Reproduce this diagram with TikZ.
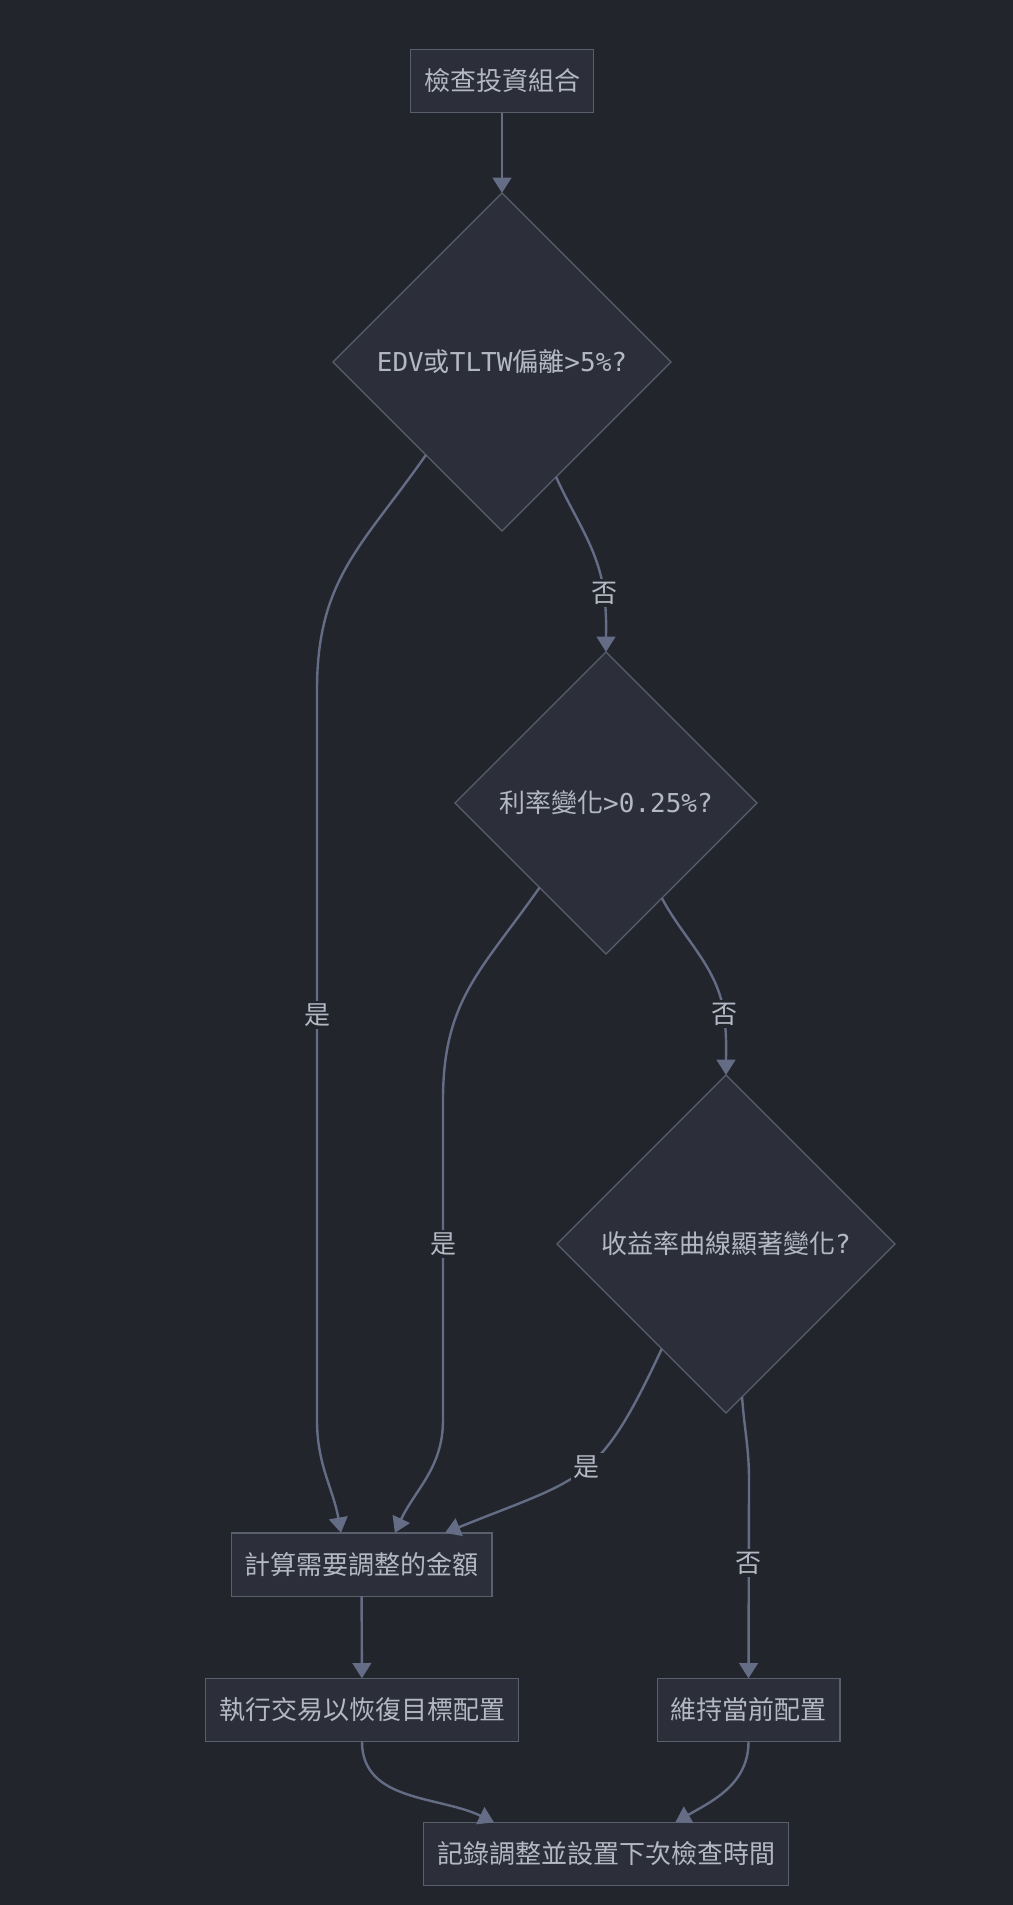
\documentclass[tikz,border=0pt]{standalone}
\usepackage{fontspec}
\setmainfont{DejaVu Sans Mono}
\newfontfamily\cjk{Noto Sans CJK TC}
\usetikzlibrary{shapes.geometric, arrows.meta, positioning, calc}

\definecolor{bgdark}{HTML}{23252C}
\definecolor{nodefill}{HTML}{2C2F39}
\definecolor{nodeline}{HTML}{5A5F6E}
\definecolor{edgeline}{HTML}{646D85}
\definecolor{textgray}{HTML}{B4B8C4}

\tikzset{
  box/.style={draw=nodeline, fill=nodefill, line width=1pt, text=textgray,
    minimum height=47.5pt, inner xsep=10pt, outer sep=0pt},
  decision/.style={diamond, aspect=1, draw=nodeline, fill=nodefill, line width=1pt,
    text=textgray, inner sep=0pt, outer sep=0pt},
  edge/.style={draw=edgeline, line width=1.8pt, -{Triangle[length=11.5pt,width=14pt]}},
  lbl/.style={fill=bgdark, text=textgray, inner sep=2pt},
}

\begin{document}
\begin{tikzpicture}[x=0.75pt, y=-0.75pt, font=\fontsize{19.5pt}{23pt}\selectfont]
\fill[bgdark] (0,0) rectangle (1013,1905);

% nodes
\node[box] (check) at (502,81) {{\cjk 檢查投資組合}};
\node[decision, minimum width=253.5pt, minimum height=253.5pt] (q1) at (502,362)
  {EDV{\cjk 或}TLTW{\cjk 偏離}>5\%?};
\node[decision, minimum width=226.5pt, minimum height=226.5pt] (q2) at (606,803)
  {{\cjk 利率變化}>0.25\%?};
\node[decision, minimum width=253.5pt, minimum height=253.5pt] (q3) at (726,1244)
  {{\cjk 收益率曲線顯著變化}?};
\node[box] (calc) at (361.5,1564.5) {{\cjk 計算需要調整的金額}};
\node[box] (exec) at (362,1710) {{\cjk 執行交易以恢復目標配置}};
\node[box] (keep) at (748.5,1710) {{\cjk 維持當前配置}};
\node[box] (log) at (606,1854) {{\cjk 記錄調整並設置下次檢查時間}};

% start points on the diamond edges
\coordinate (q1yes) at ($(q1.west)!0.55!(q1.south)$);
\coordinate (q1no) at ($(q1.south)!0.32!(q1.east)$);
\coordinate (q2yes) at ($(q2.west)!0.56!(q2.south)$);
\coordinate (q2no) at ($(q2.south)!0.37!(q2.east)$);
\coordinate (q3yes) at ($(q3.west)!0.62!(q3.south)$);
\coordinate (q3no) at ($(q3.south)!0.095!(q3.east)$);

% connectors
\draw[edge] (check) -- (q1);
\draw[edge] (q1yes) to[out=-125,in=90,looseness=1.1] (317,690) -- node[lbl,pos=0.445]{\cjk 是} (317,1420)
  to[out=-90,in=100] ([xshift=-15.4pt]calc.north);
\draw[edge] (q1no) to[out=-66,in=97,looseness=0.9] node[lbl,pos=1]{\cjk 否} (604,593)
  to[out=-83,in=90] (q2.north);
\draw[edge] (q2yes) to[out=-125,in=90,looseness=1.1] (443,1100) -- node[lbl,pos=0.45]{\cjk 是} (443,1420)
  to[out=-90,in=65] ([xshift=25pt]calc.north);
\draw[edge] (q2no) to[out=-62,in=97,looseness=0.9] node[lbl,pos=1]{\cjk 否} (724,1014)
  to[out=-83,in=90] (q3.north);
\draw[edge] (q3yes) to[out=-115,in=22,looseness=1.35] node[lbl,pos=0.47]{\cjk 是} ([xshift=62.6pt]calc.north);
\draw[edge] (q3no) to[out=-86,in=90] (749,1480) -- node[lbl,pos=0.42]{\cjk 否} (keep.north);
\draw[edge] (calc) -- (exec);
\draw[edge] (exec.south) to[out=-90,in=154] ([xshift=-84pt]log.north);
\draw[edge] (keep.south) to[out=-90,in=30] ([xshift=52pt]log.north);
\end{tikzpicture}
\end{document}
